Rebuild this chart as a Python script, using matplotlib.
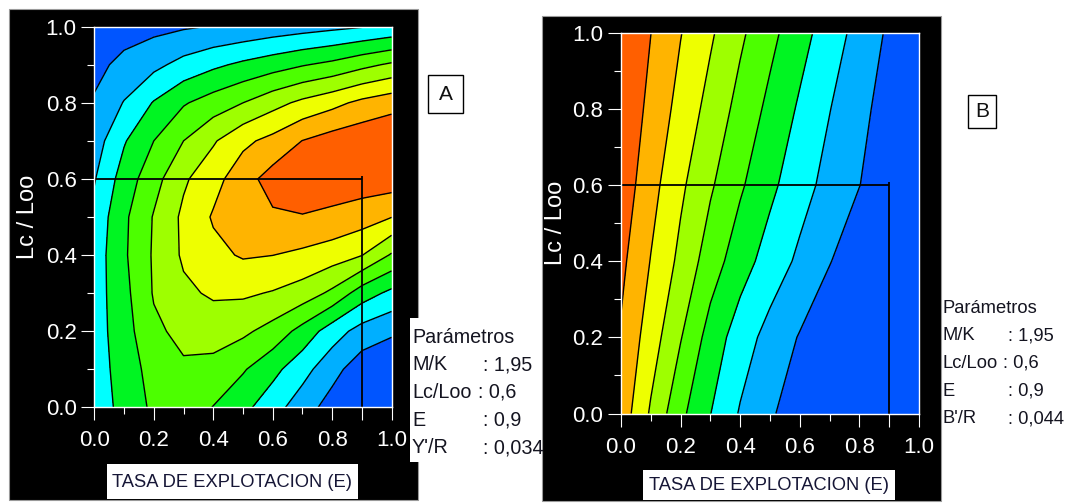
import numpy as np
import matplotlib
matplotlib.use("Agg")
import matplotlib.pyplot as plt
from matplotlib import font_manager
from matplotlib.patches import Rectangle
from matplotlib.ticker import FixedLocator, FixedFormatter, MultipleLocator

# ---------------------------------------------------------------------------
# Data: isopleth diagrams of relative yield (A) and relative biomass (B)
# per recruit against exploitation rate E and Lc/Loo.
# Values are given in band units: contour line k separates band k from k+1.
# ---------------------------------------------------------------------------
E_GRID = [0.0, 0.1, 0.2, 0.3, 0.4, 0.5, 0.6, 0.7, 0.8, 0.9, 1.0]
LC_GRID_A = [0.0, 0.1, 0.2, 0.3, 0.4, 0.5, 0.6, 0.7, 0.8, 0.9, 1.0]
LC_GRID_B = [0.0, 0.2, 0.4, 0.6, 0.8, 1.0]

# Y'/R bands, one row per Lc/Loo value, one column per E value
YR_BANDS = [
    [2.43, 3.32, 4.20, 4.60, 3.97, 3.28, 2.40, 1.47, 0.58, -0.30, -0.80],
    [2.50, 3.44, 4.40, 4.85, 4.69, 4.10, 3.30, 2.36, 1.35, 0.42, 0.00],
    [2.53, 3.58, 4.80, 5.27, 5.43, 5.20, 4.63, 3.65, 2.48, 1.61, 1.19],
    [2.51, 3.70, 5.08, 5.80, 6.14, 6.15, 5.93, 5.55, 4.79, 3.50, 2.75],
    [2.45, 3.85, 5.12, 6.15, 6.74, 7.10, 7.01, 6.79, 6.49, 6.03, 4.89],
    [2.30, 3.80, 5.07, 6.20, 7.10, 7.60, 7.86, 7.95, 7.76, 7.47, 7.02],
    [1.93, 3.45, 4.63, 5.85, 6.64, 7.60, 8.40, 8.60, 8.60, 8.55, 8.55],
    [1.52, 2.91, 4.00, 5.00, 5.89, 6.77, 7.30, 8.02, 8.45, 8.70, 8.90],
    [1.11, 2.05, 3.07, 3.90, 4.46, 5.00, 5.65, 6.23, 6.70, 7.25, 7.62],
    [0.70, 1.29, 1.74, 2.33, 2.80, 3.20, 3.56, 3.93, 4.25, 4.73, 5.16],
    [0.30, 0.53, 0.72, 0.89, 1.05, 1.20, 1.41, 1.59, 1.77, 1.95, 2.20],
]

# B'/R bands, one row per Lc/Loo value, one column per E value
BR_BANDS = [
    [7.59, 5.87, 4.24, 3.02, 1.91, 1.15, 0.39, -0.36, -1.10, -1.80, -2.60],
    [7.89, 6.50, 5.06, 3.59, 2.50, 1.64, 0.93, 0.21, -0.50, -1.20, -1.90],
    [8.24, 6.96, 5.75, 4.50, 3.44, 2.57, 1.80, 1.05, 0.31, -0.44, -1.20],
    [8.61, 7.36, 6.19, 5.13, 4.14, 3.23, 2.40, 1.66, 1.02, 0.34, -0.32],
    [8.82, 7.73, 6.66, 5.66, 4.67, 3.75, 2.86, 2.03, 1.29, 0.56, -0.20],
    [8.98, 8.01, 7.04, 6.14, 5.18, 4.28, 3.38, 2.50, 1.65, 0.84, 0.02],
]

CONTOUR_LINES = [1, 2, 3, 4, 5, 6, 7, 8]
BAND_COLORS = ["#0055ff", "#00afff", "#00ffff", "#00f522", "#4cff00",
               "#9eff00", "#eeff00", "#ffb400", "#ff5f00"]

# Selected point (parameters of the analysis)
E_SEL = 0.9
LC_SEL = 0.6

TICKS = [0.0, 0.2, 0.4, 0.6, 0.8, 1.0]
TICK_LABELS = ["0.0", "0.2", "0.4", "0.6", "0.8", "1.0"]

X_TITLE = "TASA DE EXPLOTACION (E)"
Y_TITLE = "Lc / Loo"
PARAM_TITLE = "Parámetros"
PARAM_NAMES_A = ["M/K", "Lc/Loo", "E", "Y'/R"]
PARAM_VALUES_A = ["1,95", "0,6", "0,9", "0,034"]
PARAM_NAMES_B = ["M/K", "Lc/Loo", "E", "B'/R"]
PARAM_VALUES_B = ["1,95", "0,6", "0,9", "0,044"]

# ---------------------------------------------------------------------------
W, H = 1070, 503
fig = plt.figure(figsize=(W / 100, H / 100), dpi=100)
fig.patch.set_facecolor("white")

FONT = "Liberation Sans"
TEXT_DARK = "#141420"


def fx(px):
    return px / W


def fy(py):
    return 1 - py / H


def fig_rect(x0, y0, x1, y1, **kw):
    r = Rectangle((fx(x0), fy(y1)), (x1 - x0) / W, (y1 - y0) / H,
                  transform=fig.transFigure, **kw)
    fig.add_artist(r)
    return r


def panel(frame, plot, lc_grid, bands, xlabel_box, ylabel_x,
          tag, tag_box, names, values, text_x, text_y0, text_size,
          colon_dx, line_step, cover):
    # black frame of the panel
    fig_rect(*frame, facecolor="black", edgecolor="#9a9a9a", lw=0.8, zorder=0)

    x0, y0, x1, y1 = plot
    ax = fig.add_axes([fx(x0), fy(y1), (x1 - x0) / W, (y1 - y0) / H])
    ax.set_facecolor("black")

    z = np.array(bands, dtype=float)
    levels = [z.min() - 1] + CONTOUR_LINES + [z.max() + 1]
    ax.contourf(E_GRID, lc_grid, z, levels=levels, colors=BAND_COLORS)
    ax.contour(E_GRID, lc_grid, z, levels=CONTOUR_LINES, colors="black",
               linewidths=1.0)

    # crosshair at the selected E and Lc/Loo
    ax.plot([0, E_SEL], [LC_SEL, LC_SEL], color="black", lw=1.3,
            solid_capstyle="butt")
    ax.plot([E_SEL, E_SEL], [0, LC_SEL + 0.008], color="black", lw=1.3,
            solid_capstyle="butt")

    ax.set_xlim(0, 1)
    ax.set_ylim(0, 1)
    for s in ax.spines.values():
        s.set_color("white")
        s.set_linewidth(1.0)

    ax.xaxis.set_major_locator(FixedLocator(TICKS + [E_SEL]))
    ax.xaxis.set_major_formatter(FixedFormatter(TICK_LABELS + [""]))
    ax.yaxis.set_major_locator(FixedLocator(TICKS))
    ax.yaxis.set_major_formatter(FixedFormatter(TICK_LABELS))
    ax.xaxis.set_minor_locator(MultipleLocator(0.1))
    ax.yaxis.set_minor_locator(MultipleLocator(0.1))
    ax.tick_params(which="major", length=9.2, width=0.8, color="white",
                   labelcolor="white", labelsize=16)
    ax.tick_params(which="minor", length=5.2, width=0.8, color="white")
    ax.tick_params(axis="x", which="major", pad=7.5)
    ax.tick_params(axis="y", which="major", pad=3.5)
    for lab in ax.get_xticklabels() + ax.get_yticklabels():
        lab.set_fontfamily(FONT)

    # axis titles
    bx0, by0, bx1, by1 = xlabel_box
    fig_rect(bx0, by0, bx1, by1, facecolor="white", edgecolor="none", zorder=1)
    fig.text(fx((bx0 + bx1) / 2), fy((by0 + by1) / 2 + 1), X_TITLE,
             ha="center", va="center", color="#161636",
             fontfamily=FONT, fontsize=13.2)
    fig.text(fx(ylabel_x), fy((y0 + y1) / 2), Y_TITLE, rotation=90,
             ha="center", va="center", color="white",
             fontfamily=FONT, fontsize=17)

    # panel tag
    tx0, ty0, tx1, ty1 = tag_box
    fig_rect(tx0, ty0, tx1, ty1, facecolor="white", edgecolor="black",
             lw=1.0, zorder=2)
    fig.text(fx((tx0 + tx1) / 2), fy((ty0 + ty1) / 2), tag, ha="center",
             va="center", color="#101010", fontfamily=FONT, fontsize=15,
             zorder=3)

    # parameter block
    if cover is not None:
        fig_rect(*cover, facecolor="white", edgecolor="none", zorder=2)
    fig.text(fx(text_x), fy(text_y0), PARAM_TITLE, ha="left",
             va="baseline", color=TEXT_DARK, fontfamily=FONT,
             fontsize=text_size, zorder=3)
    for i, (n, v) in enumerate(zip(names, values)):
        yb = fy(text_y0 + line_step * (i + 1))
        fig.text(fx(text_x), yb, n, ha="left", va="baseline",
                 color=TEXT_DARK, fontfamily=FONT, fontsize=text_size,
                 zorder=3)
        dx = colon_dx - 5 if n == "Lc/Loo" else colon_dx
        fig.text(fx(text_x + dx), yb, ": " + v, ha="left", va="baseline",
                 color=TEXT_DARK, fontfamily=FONT, fontsize=text_size,
                 zorder=3)
    return ax


panel(frame=(9, 9, 418, 500), plot=(94.3, 26.7, 391.7, 407.3),
      lc_grid=LC_GRID_A, bands=YR_BANDS, xlabel_box=(107, 464, 358, 499),
      ylabel_x=28, tag="A", tag_box=(428, 75, 463, 113),
      names=PARAM_NAMES_A, values=PARAM_VALUES_A,
      text_x=412, text_y0=343, text_size=14.2, colon_dx=71, line_step=27.5,
      cover=(410, 318, 540, 462))

panel(frame=(542, 16, 941, 501), plot=(621, 32.7, 919, 413.5),
      lc_grid=LC_GRID_B, bands=BR_BANDS, xlabel_box=(643, 470, 895, 500),
      ylabel_x=556, tag="B", tag_box=(968, 95, 996, 128),
      names=PARAM_NAMES_B, values=PARAM_VALUES_B,
      text_x=943, text_y0=313, text_size=13.2, colon_dx=65, line_step=27.5,
      cover=None)

fig.savefig("out.png", dpi=100, facecolor="white")
